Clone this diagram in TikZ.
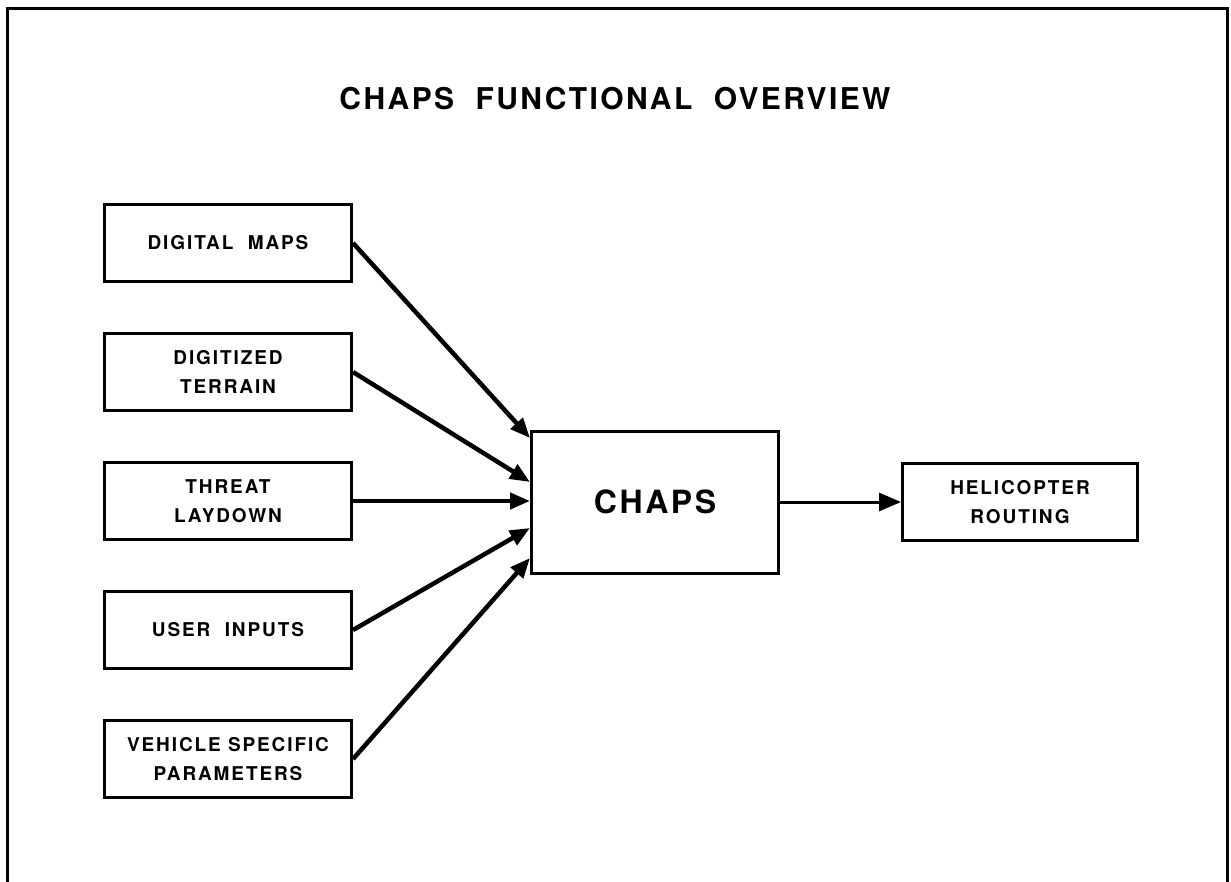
\documentclass[tikz,border=0pt]{standalone}
\usepackage{fontspec}
\setmainfont{TeX Gyre Heros}
\usetikzlibrary{arrows.meta,positioning}

\begin{document}
\begin{tikzpicture}[x=1pt,y=-1pt,node distance=49pt,
	inbox/.style={draw,line width=3pt,minimum width=247pt,minimum height=77pt,
		inner sep=0pt,align=center,font=\fontsize{19}{29}\selectfont\bfseries\addfontfeature{LetterSpace=10}},
	feed/.style={line width=4.5pt,-{Triangle[length=20pt,width=16pt]}},
	outfeed/.style={line width=3pt,-{Triangle[length=22pt,width=18pt]}}]
	\useasboundingbox (0,0) rectangle (1231,882);
	\draw[line width=3pt] (7,900) -- (7,9) -- (1227,9) -- (1227,900);
	\node[font=\fontsize{30}{36}\selectfont\bfseries\addfontfeature{LetterSpace=8}] (title) at (615,99) {CHAPS~ FUNCTIONAL~ OVERVIEW};
	\node[inbox] (maps) at (228,243) {DIGITAL~ MAPS};
	\node[inbox,below=of maps] (terrain) {DIGITIZED\\TERRAIN};
	\node[inbox,below=of terrain] (threat) {THREAT\\LAYDOWN};
	\node[inbox,below=of threat] (user) {USER~ INPUTS};
	\node[inbox,below=of user] (vehicle) {VEHICLE SPECIFIC\\PARAMETERS};
	\node[draw,line width=3pt,minimum width=247pt,minimum height=142pt,
		font=\fontsize{32}{36}\selectfont\bfseries\addfontfeature{LetterSpace=8}] (chaps) at (655,502) {CHAPS};
	\node[inbox,minimum width=235pt] (heli) at (1020,502) {HELICOPTER\\ROUTING};
	\draw[feed] (maps.east) -- ([yshift=64pt]chaps.west);
	\draw[feed] (terrain.east) -- ([yshift=20pt]chaps.west);
	\draw[feed] (threat.east) -- (threat.east -| chaps.west);
	\draw[feed] (user.east) -- ([yshift=-26pt]chaps.west);
	\draw[feed] (vehicle.east) -- ([yshift=-56pt]chaps.west);
	\draw[outfeed] (chaps.east) -- (heli.west);
\end{tikzpicture}
\end{document}
